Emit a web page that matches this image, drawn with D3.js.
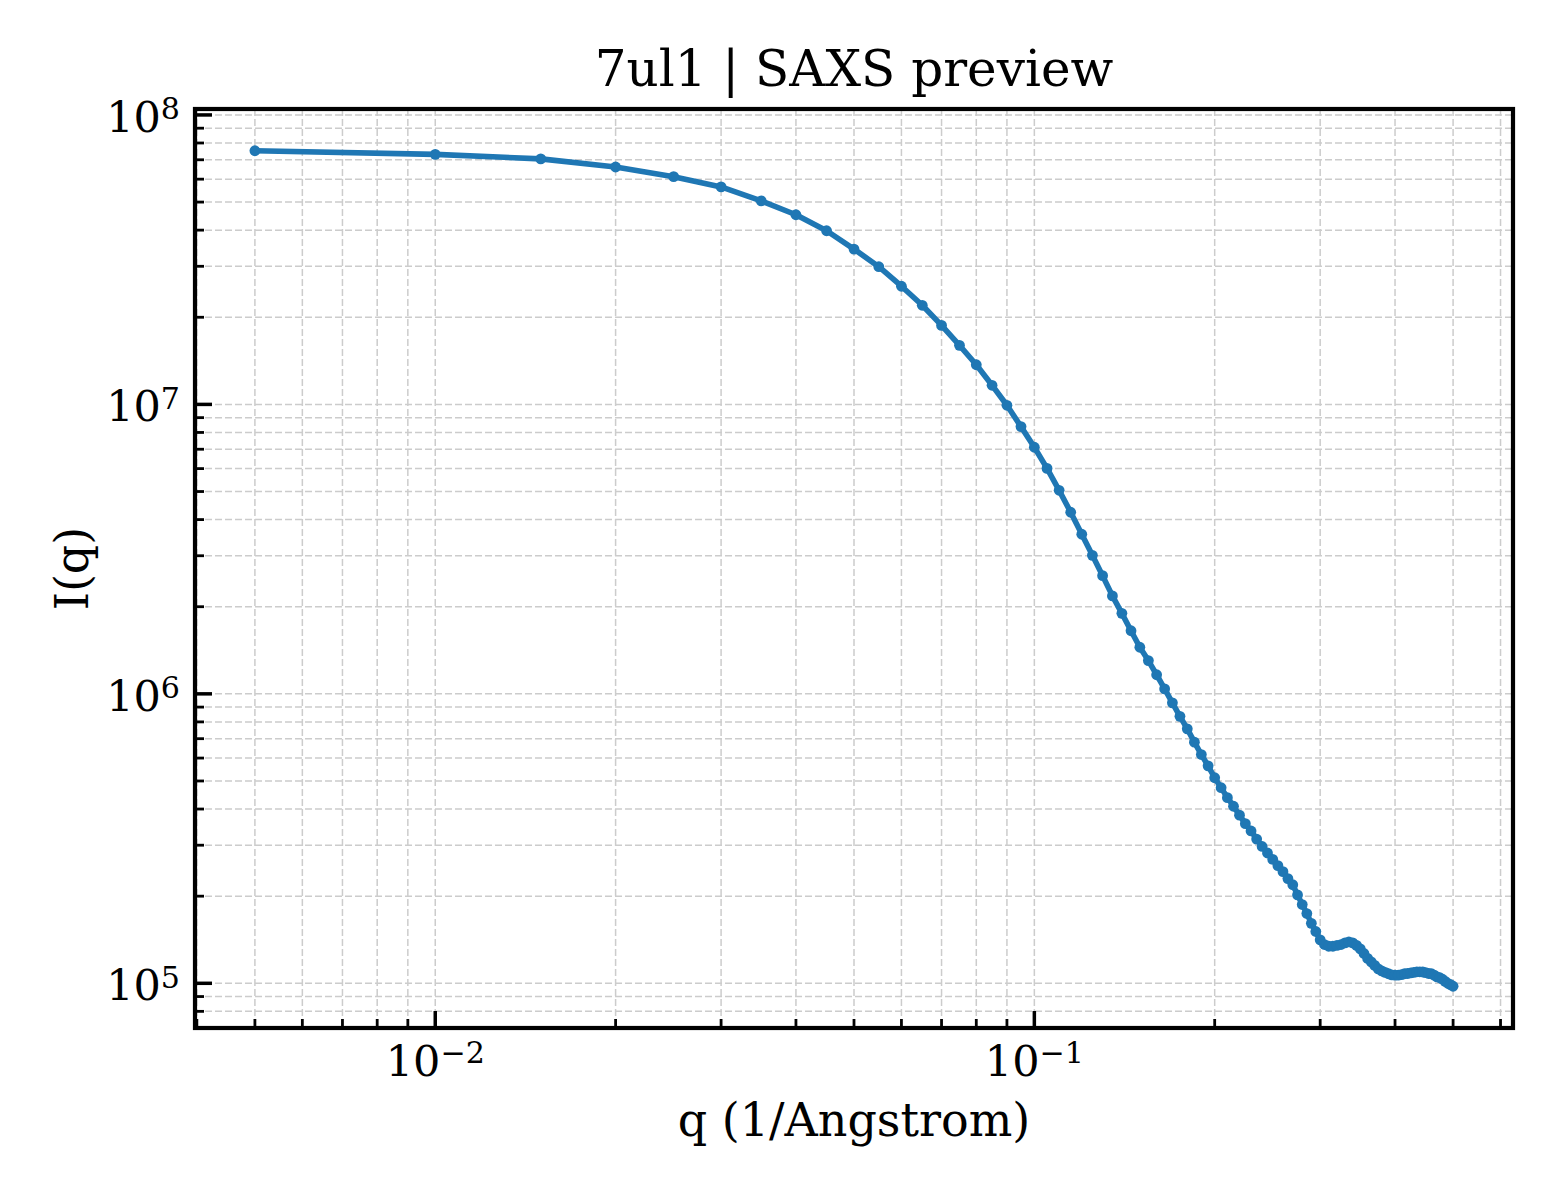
<!DOCTYPE html>
<html>
<head>
<meta charset="utf-8">
<script src="https://cdn.jsdelivr.net/npm/d3@7"></script>
<style>
body { margin: 0; background: #fff; }
text { font-family: "DejaVu Serif", serif; fill: #000; }
</style>
</head>
<body>
<script>
// q values (1/Angstrom)
var qValues = [0.005, 0.010, 0.015, 0.020, 0.025, 0.030, 0.035, 0.040, 0.045, 0.050,
    0.055, 0.060, 0.065, 0.070, 0.075, 0.080, 0.085, 0.090, 0.095, 0.100,
    0.105, 0.110, 0.115, 0.120, 0.125, 0.130, 0.135, 0.140, 0.145, 0.150,
    0.155, 0.160, 0.165, 0.170, 0.175, 0.180, 0.185, 0.190, 0.195, 0.200,
    0.205, 0.210, 0.215, 0.220, 0.225, 0.230, 0.235, 0.240, 0.245, 0.250,
    0.255, 0.260, 0.265, 0.270, 0.275, 0.280, 0.285, 0.290, 0.295, 0.300,
    0.305, 0.310, 0.315, 0.320, 0.325, 0.330, 0.335, 0.340, 0.345, 0.350,
    0.355, 0.360, 0.365, 0.370, 0.375, 0.380, 0.385, 0.390, 0.395, 0.400,
    0.405, 0.410, 0.415, 0.420, 0.425, 0.430, 0.435, 0.440, 0.445, 0.450,
    0.455, 0.460, 0.465, 0.470, 0.475, 0.480, 0.485, 0.490, 0.495, 0.500];

// I(q)
var intensity = [7.52e7, 7.31e7, 7.05e7, 6.61e7, 6.12e7, 5.64e7, 5.05e7, 4.52e7, 3.98e7, 3.44e7,
    2.99e7, 2.56e7, 2.20e7, 1.875e7, 1.60e7, 1.371e7, 1.164e7, 9.93e6, 8.38e6, 7.11e6,
    6.01e6, 5.05e6, 4.24e6, 3.56e6, 3.01e6, 2.56e6, 2.18e6, 1.897e6, 1.652e6, 1.449e6,
    1.303e6, 1.164e6, 1.040e6, 9.31e5, 8.36e5, 7.57e5, 6.81e5, 6.17e5, 5.64e5, 5.13e5,
    4.74e5, 4.38e5, 4.09e5, 3.81e5, 3.56e5, 3.36e5, 3.15e5, 2.97e5, 2.82e5, 2.68e5,
    2.55e5, 2.43e5, 2.30e5, 2.19e5, 2.02e5, 1.871e5, 1.742e5, 1.611e5, 1.510e5, 1.413e5,
    1.361e5, 1.343e5, 1.343e5, 1.352e5, 1.361e5, 1.380e5, 1.390e5, 1.380e5, 1.352e5, 1.315e5,
    1.268e5, 1.219e5, 1.186e5, 1.153e5, 1.122e5, 1.104e5, 1.091e5, 1.079e5, 1.069e5, 1.067e5,
    1.067e5, 1.072e5, 1.079e5, 1.081e5, 1.086e5, 1.091e5, 1.096e5, 1.096e5, 1.094e5, 1.089e5,
    1.081e5, 1.079e5, 1.067e5, 1.052e5, 1.045e5, 1.033e5, 1.016e5, 1.000e5, 9.89e4, 9.77e4];

var xMajorExp = [-2, -1];
var yMajorExp = [5, 6, 7, 8];

var titleText = "7ul1 | SAXS preview";
var xLabelText = "q (1/Angstrom)";
var yLabelText = "I(q)";

var W = 1560, H = 1200;
var pLeft = 195, pRight = 1513, pTop = 109, pBottom = 1028;

var svg = d3.select("body").append("svg")
    .attr("width", W)
    .attr("height", H);

// log axes with 5% padding (in log space) like matplotlib
var xExt = d3.extent(qValues).map(Math.log10);
var yExt = d3.extent(intensity).map(Math.log10);
var xPad = (xExt[1] - xExt[0]) * 0.05;
var yPad = (yExt[1] - yExt[0]) * 0.05;

var x = d3.scaleLog()
    .domain([Math.pow(10, xExt[0] - xPad), Math.pow(10, xExt[1] + xPad)])
    .range([pLeft, pRight]);
var y = d3.scaleLog()
    .domain([Math.pow(10, yExt[0] - yPad), Math.pow(10, yExt[1] + yPad)])
    .range([pBottom, pTop]);

var xTicksAll = x.ticks();
var yTicksAll = y.ticks();
var isMajor = function(v) {
    var e = Math.log10(v);
    return Math.abs(e - Math.round(e)) < 1e-6;
};

// grid
var grid = svg.append("g");
grid.selectAll(".gx")
    .data(xTicksAll)
    .enter()
    .append("line")
    .attr("x1", function(d) { return x(d); })
    .attr("x2", function(d) { return x(d); })
    .attr("y1", pTop)
    .attr("y2", pBottom)
    .attr("stroke", "#cccccc")
    .attr("stroke-width", 1.5)
    .attr("stroke-dasharray", "7,3");
grid.selectAll(".gy")
    .data(yTicksAll)
    .enter()
    .append("line")
    .attr("y1", function(d) { return y(d); })
    .attr("y2", function(d) { return y(d); })
    .attr("x1", pLeft)
    .attr("x2", pRight)
    .attr("stroke", "#cccccc")
    .attr("stroke-width", 1.5)
    .attr("stroke-dasharray", "7,3");

// curve
var pts = qValues.map(function(q, i) { return [q, intensity[i]]; });
var line = d3.line()
    .x(function(d) { return x(d[0]); })
    .y(function(d) { return y(d[1]); });

svg.append("path")
    .datum(pts)
    .attr("d", line)
    .attr("fill", "none")
    .attr("stroke", "#1f77b4")
    .attr("stroke-width", 5.6)
    .attr("stroke-linejoin", "round");

svg.selectAll(".dot")
    .data(pts)
    .enter()
    .append("circle")
    .attr("cx", function(d) { return x(d[0]); })
    .attr("cy", function(d) { return y(d[1]); })
    .attr("r", 5.4)
    .attr("fill", "#1f77b4");

// ticks, pointing inwards
svg.selectAll(".tx")
    .data(xTicksAll)
    .enter()
    .append("line")
    .attr("x1", function(d) { return x(d); })
    .attr("x2", function(d) { return x(d); })
    .attr("y1", pBottom)
    .attr("y2", function(d) { return pBottom - (isMajor(d) ? 17 : 9); })
    .attr("stroke", "#000")
    .attr("stroke-width", function(d) { return isMajor(d) ? 3.5 : 2.8; });
svg.selectAll(".ty")
    .data(yTicksAll)
    .enter()
    .append("line")
    .attr("y1", function(d) { return y(d); })
    .attr("y2", function(d) { return y(d); })
    .attr("x1", pLeft)
    .attr("x2", function(d) { return pLeft + (isMajor(d) ? 17 : 9); })
    .attr("stroke", "#000")
    .attr("stroke-width", function(d) { return isMajor(d) ? 3.5 : 2.8; });

// frame
svg.append("rect")
    .attr("x", pLeft)
    .attr("y", pTop)
    .attr("width", pRight - pLeft)
    .attr("height", pBottom - pTop)
    .attr("fill", "none")
    .attr("stroke", "#000")
    .attr("stroke-width", 4.2);

function powLabel(sel, e) {
    sel.append("tspan").text("10");
    sel.append("tspan")
        .attr("dy", "-0.42em")
        .attr("font-size", "0.7em")
        .text(e < 0 ? "\u2212" + (-e) : "" + e);
}

svg.selectAll(".lx")
    .data(xMajorExp)
    .enter()
    .append("text")
    .attr("x", function(d) { return x(Math.pow(10, d)); })
    .attr("y", 1076)
    .attr("text-anchor", "middle")
    .attr("font-size", 43)
    .each(function(d) { powLabel(d3.select(this), d); });

svg.selectAll(".ly")
    .data(yMajorExp)
    .enter()
    .append("text")
    .attr("x", 180)
    .attr("y", function(d) { return y(Math.pow(10, d)) + 17; })
    .attr("text-anchor", "end")
    .attr("font-size", 43)
    .each(function(d) { powLabel(d3.select(this), d); });

// labels
svg.append("text")
    .attr("x", (pLeft + pRight) / 2)
    .attr("y", 86)
    .attr("text-anchor", "middle")
    .attr("font-size", 50)
    .text(titleText);

svg.append("text")
    .attr("x", (pLeft + pRight) / 2)
    .attr("y", 1136)
    .attr("text-anchor", "middle")
    .attr("font-size", 46)
    .text(xLabelText);

svg.append("text")
    .attr("transform", "translate(88," + ((pTop + pBottom) / 2) + ") rotate(-90)")
    .attr("text-anchor", "middle")
    .attr("font-size", 46)
    .text(yLabelText);
</script>
</body>
</html>
